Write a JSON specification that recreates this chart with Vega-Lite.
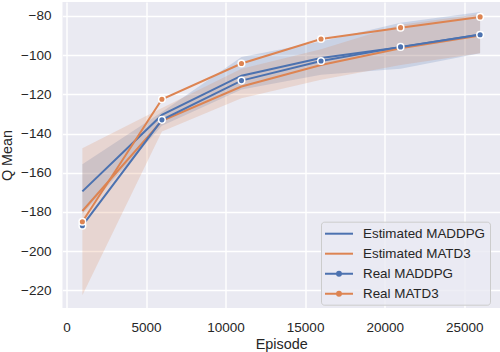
{
  "$schema": "https://vega.github.io/schema/vega-lite/v6.json",
  "width": 437.5,
  "height": 306,
  "autosize": {"type": "none"},
  "padding": {"left": 62.5, "top": 2, "right": 0, "bottom": 44},
  "background": "white",
  "config": {
    "view": {"fill": "#EAEAF2", "stroke": null},
    "font": "Liberation Sans",
    "axis": {
      "grid": true, "gridColor": "white", "gridWidth": 1.4,
      "domain": false, "ticks": false, "tickSize": 0,
      "labelFont": "Liberation Sans", "labelFontSize": 13.5, "labelColor": "#262626",
      "titleFont": "Liberation Sans", "titleFontSize": 14.4, "titleFontWeight": "normal", "titleColor": "#262626"
    }
  },
  "data": {"values": [
    {"series": "Estimated MADDPG", "episode": 1000, "q": -169.5, "lo": -181, "hi": -155.7},
    {"series": "Estimated MADDPG", "episode": 6000, "q": -130.5, "lo": -136, "hi": -129},
    {"series": "Estimated MADDPG", "episode": 11000, "q": -110.5, "lo": -117.5, "hi": -101},
    {"series": "Estimated MADDPG", "episode": 16000, "q": -101.5, "lo": -110, "hi": -93},
    {"series": "Estimated MADDPG", "episode": 21000, "q": -96, "lo": -107, "hi": -83.5},
    {"series": "Estimated MADDPG", "episode": 26000, "q": -89.5, "lo": -99, "hi": -78},
    {"series": "Estimated MATD3", "episode": 1000, "q": -179.5, "lo": -222.5, "hi": -147.5},
    {"series": "Estimated MATD3", "episode": 6000, "q": -133.5, "lo": -139, "hi": -127},
    {"series": "Estimated MATD3", "episode": 11000, "q": -116, "lo": -122, "hi": -107},
    {"series": "Estimated MATD3", "episode": 16000, "q": -105, "lo": -112.5, "hi": -97},
    {"series": "Estimated MATD3", "episode": 21000, "q": -96.5, "lo": -105, "hi": -84.5},
    {"series": "Estimated MATD3", "episode": 26000, "q": -90, "lo": -99, "hi": -79},
    {"series": "Real MADDPG", "episode": 1000, "q": -187},
    {"series": "Real MADDPG", "episode": 6000, "q": -133},
    {"series": "Real MADDPG", "episode": 11000, "q": -113},
    {"series": "Real MADDPG", "episode": 16000, "q": -103},
    {"series": "Real MADDPG", "episode": 21000, "q": -95.8},
    {"series": "Real MADDPG", "episode": 26000, "q": -89.6},
    {"series": "Real MATD3", "episode": 1000, "q": -185},
    {"series": "Real MATD3", "episode": 6000, "q": -122.5},
    {"series": "Real MATD3", "episode": 11000, "q": -104.3},
    {"series": "Real MATD3", "episode": 16000, "q": -91.8},
    {"series": "Real MATD3", "episode": 21000, "q": -86},
    {"series": "Real MATD3", "episode": 26000, "q": -80.5}
  ]},
  "encoding": {
    "x": {"field": "episode", "type": "quantitative",
      "scale": {"domain": [-250, 27250], "nice": false, "zero": false},
      "axis": {"title": "Episode", "values": [0, 5000, 10000, 15000, 20000, 25000], "format": "d", "labelPadding": 12, "titlePadding": 4}},
    "color": {"field": "series", "type": "nominal",
      "scale": {"domain": ["Estimated MADDPG", "Estimated MATD3", "Real MADDPG", "Real MATD3"], "range": ["#4C72B0", "#DD8452", "#4C72B0", "#DD8452"]},
      "legend": {
        "title": null, "orient": "none", "legendX": 258.5, "legendY": 219.7,
        "padding": 4, "symbolOffset": 6, "symbolSize": 196, "labelOffset": 16, "rowPadding": 5,
        "labelFont": "Liberation Sans", "labelFontSize": 13.4, "labelColor": "#262626",
        "fillColor": "rgba(234,234,242,0.8)", "strokeColor": "#cccccc", "cornerRadius": 3,
        "symbolStrokeWidth": 2,
        "encode": {"symbols": {"update": {
          "shape": {"signal": "indexof(datum.label, 'Real') === 0 ? 'M-2,0L2,0M0.28,0A0.28,0.28 0 1,1 -0.28,0A0.28,0.28 0 1,1 0.28,0Z' : 'M-2,0L2,0'"},
          "fill": {"signal": "indexof(datum.label, 'Real') === 0 ? scale('color', datum.value) : 'transparent'"},
          "stroke": {"signal": "scale('color', datum.value)"},
          "strokeWidth": {"value": 2},
          "opacity": {"value": 1}
        }}}
      }
    }
  },
  "layer": [
    {
      "transform": [{"filter": "isValid(datum.lo)"}],
      "mark": {"type": "area", "opacity": 0.2},
      "encoding": {
        "y": {"field": "lo", "type": "quantitative",
          "scale": {"domain": [-229, -72.9], "nice": false, "zero": false},
          "axis": {"title": "Q Mean", "values": [-220, -200, -180, -160, -140, -120, -100, -80], "labelPadding": 11.5, "titlePadding": 6}},
        "y2": {"field": "hi"}
      }
    },
    {
      "mark": {"type": "line", "strokeWidth": 2},
      "encoding": {"y": {"field": "q", "type": "quantitative"}}
    },
    {
      "transform": [{"filter": "indexof(datum.series, 'Real') === 0"}],
      "mark": {"type": "circle", "size": 44, "stroke": "white", "strokeWidth": 1.5, "opacity": 1},
      "encoding": {"y": {"field": "q", "type": "quantitative"}}
    }
  ]
}
